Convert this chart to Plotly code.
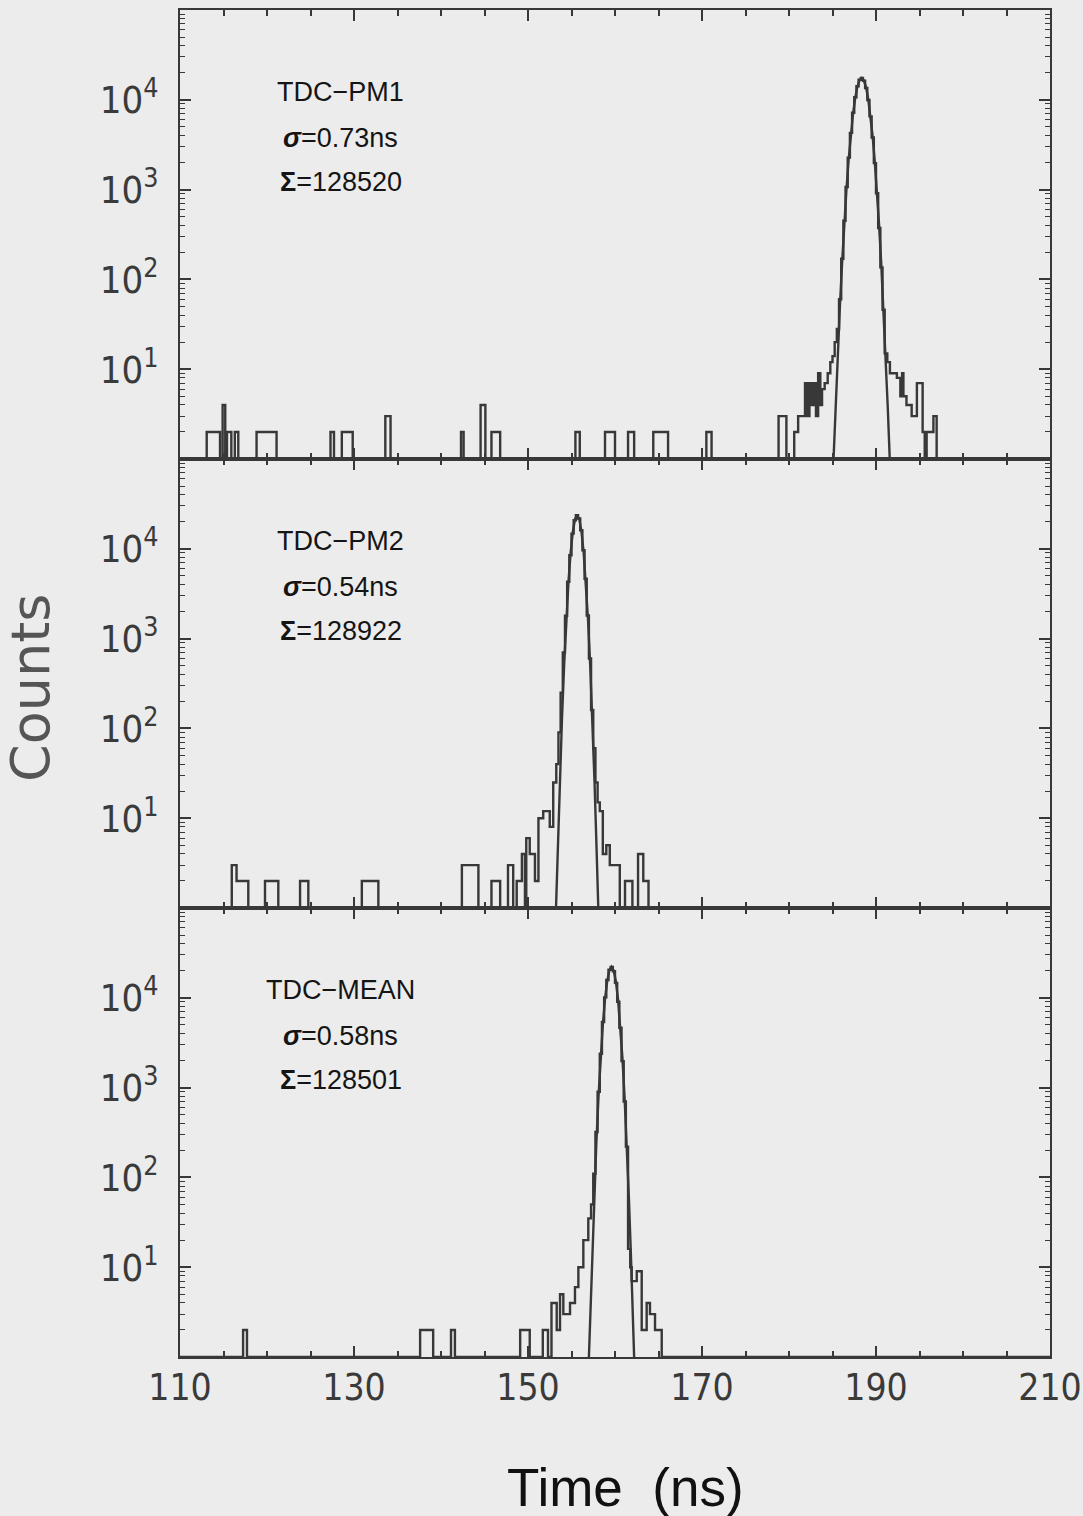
import plotly.graph_objects as go
from plotly.subplots import make_subplots

# ---------------- data ----------------
# Histogram steps: left edge of each step (ns) and the count on that step
pm1_t = [110, 113.07, 114.6, 114.9, 115.2, 115.4, 115.9, 116.3, 116.7, 118.8, 121.1,
         127.3, 127.7, 128.6, 129.85, 133.6, 134.2, 142.3, 142.6, 144.55, 145.1,
         145.8, 146.8, 155.45, 155.95, 158.85, 160.0, 161.5, 162.2, 164.4, 166.1,
         170.5, 171.1, 178.8, 179.7, 180.6, 181.05, 181.84, 182.1, 182.35, 182.6,
         182.85, 183.1, 183.35, 183.6, 183.8, 184.1, 184.45, 184.75, 185.0, 185.25,
         185.5, 185.75, 186.0, 186.25, 186.5, 186.75, 187.0, 187.25, 187.5, 187.75,
         188.0, 188.25, 188.5, 188.75, 189.0, 189.25, 189.5, 189.75, 190.0, 190.25,
         190.5, 190.75, 191.0, 191.3, 191.6, 192.4, 192.8, 193.0, 193.15, 193.5,
         194.1, 194.7, 195.36, 195.6, 195.82, 196.6, 196.97, 210]
pm1_n = [1, 2, 1, 4, 1, 2, 1, 2, 1, 2, 1,
         2, 1, 2, 1, 3, 1, 2, 1, 4, 1,
         2, 1, 2, 1, 2, 1, 2, 1, 2, 1,
         2, 1, 3, 1, 2, 3, 7, 3, 7, 4,
         7, 3, 9, 4, 6, 7, 9, 12, 14, 20,
         28, 60, 170, 450, 1070, 2270, 4280, 7170, 10690, 14160,
         16690, 17490, 16300, 13510, 9960, 6530, 3810, 1970, 910, 373,
         136, 46, 15, 12, 9, 8, 5, 9, 5, 4,
         3, 7, 2, 1, 2, 3, 1, 1]

pm2_t = [110, 115.95, 116.5, 117.85, 119.77, 121.3, 123.8, 124.75, 130.9, 132.8,
         142.4, 144.3, 145.8, 146.8, 147.7, 148.3, 148.7, 149.3, 149.65, 149.8,
         150.2, 150.8, 151.2, 151.75, 152.5, 152.9, 153.25, 153.5, 153.75, 154.0,
         154.25, 154.5, 154.75, 155.0, 155.25, 155.5, 155.75, 156.0, 156.25, 156.5,
         156.75, 157.0, 157.25, 157.5, 157.75, 158.0, 158.25, 158.6, 159.0, 159.4,
         160.55, 161.15, 162.0, 162.65, 163.25, 163.85, 210]
pm2_n = [1, 3, 2, 1, 2, 1, 2, 1, 2, 1,
         3, 1, 2, 1, 3, 1, 2, 4, 1, 6,
         4, 2, 10, 12, 8, 25, 40, 90, 250, 700,
         1800, 4300, 8460, 14770, 20820, 23680, 21730, 16100, 9625, 4640,
         1810, 600, 160, 60, 25, 15, 12, 4, 5, 3,
         1, 2, 1, 4, 2, 1, 1]

mean_t = [110, 117.25, 117.7, 137.6, 139.1, 141.15, 141.6, 149.1, 150.2, 151.7,
          152.3, 152.7, 153.3, 153.68, 154.06, 154.83, 155.4, 155.79, 156.36, 156.93,
          157.25, 157.5, 157.75, 158.0, 158.25, 158.5, 158.75, 159.0, 159.25, 159.5,
          159.75, 160.0, 160.25, 160.5, 160.75, 161.0, 161.25, 161.5, 161.75, 161.92,
          162.5, 163.07, 163.64, 164.02, 164.6, 165.37, 210]
mean_n = [1, 2, 1, 2, 1, 2, 1, 2, 1, 2,
          1, 4, 2, 5, 3, 4, 6, 10, 20, 35,
          50, 110, 320, 900, 2380, 5380, 10120, 15800, 20500, 22090,
          19750, 14670, 9050, 4640, 1970, 700, 220, 16, 10, 7,
          9, 2, 4, 3, 2, 1, 1]

# Fitted curves, points
fit1_t = [185.12, 185.35, 185.6, 185.85, 186.1, 186.35, 186.6, 186.85, 187.1, 187.35,
          187.6, 187.85, 188.1, 188.35, 188.6, 188.85, 189.1, 189.35, 189.6, 189.85,
          190.1, 190.35, 190.6, 190.85, 191.1, 191.35, 191.58]
fit1_n = [1, 3.8, 14.5, 50, 151, 410, 990, 2120, 4040, 6850,
          10320, 13840, 16500, 17500, 16500, 13840, 10320, 6850, 4040, 2120,
          990, 410, 151, 50, 14.5, 3.8, 1]

fit2_t = [153.22, 153.4, 153.65, 153.9, 154.15, 154.4, 154.65, 154.9, 155.15, 155.4,
          155.65, 155.9, 156.15, 156.4, 156.65, 156.9, 157.15, 157.4, 157.65, 157.9, 158.08]
fit2_n = [1, 4.0, 25, 124, 500, 1630, 4270, 9040, 15440, 21290,
          23700, 21290, 15440, 9040, 4270, 1630, 500, 124, 25, 4.0, 1]

fit3_t = [157.0, 157.1, 157.35, 157.6, 157.85, 158.1, 158.35, 158.6, 158.85, 159.1,
          159.35, 159.6, 159.85, 160.1, 160.35, 160.6, 160.85, 161.1, 161.35, 161.6,
          161.85, 162.1, 162.2]
fit3_n = [1, 2.0, 11.9, 58, 233, 780, 2170, 5000, 9580, 15240,
          20140, 22100, 20140, 15240, 9580, 5000, 2170, 780, 233, 58,
          11.9, 2.0, 1]

panel_titles = ["TDC\u2212PM1", "TDC\u2212PM2", "TDC\u2212MEAN"]
panel_sigmas = ["0.73", "0.54", "0.58"]
panel_sums = ["128520", "128922", "128501"]

x_ticks = [110, 130, 150, 170, 190, 210]
y_ticks = [10, 100, 1000, 10000]
y_ticktext = ["10<sup>1</sup>", "10<sup>2</sup>", "10<sup>3</sup>", "10<sup>4</sup>"]

# ---------------- figure ----------------
W, H = 1083, 1516
ML, MR, MT, MB = 180, 33, 10, 159
BG = "#ececec"
INK = "#383838"
NARROW = "Liberation Sans Narrow, Arial Narrow, DejaVu Sans Condensed, Liberation Sans, sans-serif"
SANS = "Liberation Sans, Arial, sans-serif"

fig = make_subplots(rows=3, cols=1, shared_xaxes=True, vertical_spacing=0)

hists = [(pm1_t, pm1_n), (pm2_t, pm2_n), (mean_t, mean_n)]
fits = [(fit1_t, fit1_n), (fit2_t, fit2_n), (fit3_t, fit3_n)]

for i in range(3):
    ht, hn = hists[i]
    ft, fn = fits[i]
    fig.add_trace(go.Scatter(x=ht, y=hn, mode="lines", line_shape="hv",
                             line=dict(color=INK, width=2.4), showlegend=False,
                             hoverinfo="skip"), row=i + 1, col=1)
    fig.add_trace(go.Scatter(x=ft, y=fn, mode="lines",
                             line=dict(color=INK, width=2.4), showlegend=False,
                             hoverinfo="skip"), row=i + 1, col=1)

minor_y = [m * 10 ** e for e in range(0, 5) for m in range(2, 10)]

for i in range(3):
    fig.update_xaxes(row=i + 1, col=1, range=[110, 210], showline=True, linecolor=INK,
                     linewidth=2, mirror="ticks", ticks="inside", ticklen=11, tickwidth=2,
                     tickcolor=INK, tickmode="array", tickvals=x_ticks,
                     ticktext=[str(v) for v in x_ticks],
                     minor=dict(ticks="inside", ticklen=6, tickwidth=1.6, tickcolor=INK,
                                tickmode="linear", tick0=110, dtick=5),
                     showgrid=False, zeroline=False, automargin=False,
                     tickfont=dict(family=NARROW, size=37, color="#3a3a3a"),
                     ticklabeloverflow="allow", ticklabelstandoff=-3,
                     showticklabels=(i == 2))
    fig.update_yaxes(row=i + 1, col=1, type="log", range=[0, 5.0], showline=True,
                     linecolor=INK, linewidth=2, mirror="ticks", ticks="inside",
                     ticklen=11, tickwidth=2, tickcolor=INK, tickmode="array",
                     tickvals=y_ticks, ticktext=y_ticktext,
                     minor=dict(ticks="inside", ticklen=5, tickwidth=1.4, tickcolor=INK,
                                tickmode="array", tickvals=minor_y),
                     showgrid=False, zeroline=False, automargin=False,
                     tickfont=dict(family=NARROW, size=38, color="#3a3a3a"),
                     ticklabelstandoff=12)

plot_h = H - MT - MB
panel_h = plot_h / 3.0


def py_to_paper(py):
    return (H - MB - py) / plot_h


annos = []
text_x = 128.5
offsets = [82, 128, 172]
for i in range(3):
    top = MT + i * panel_h
    lines = [panel_titles[i],
             "<b><i>\u03c3</i></b>=" + panel_sigmas[i] + "ns",
             "<b>\u03a3</b>=" + panel_sums[i]]
    for j in range(3):
        annos.append(dict(x=text_x, xref="x3", y=py_to_paper(top + offsets[j]), yref="paper",
                          text=lines[j], showarrow=False, xanchor="center", yanchor="middle",
                          font=dict(family=SANS, size=27, color="#151515")))

annos.append(dict(x=(31 - ML) / (W - ML - MR), xref="paper", y=py_to_paper(688), yref="paper",
                  text="Counts", textangle=-90, showarrow=False, xanchor="center",
                  yanchor="middle", font=dict(family="DejaVu Sans, sans-serif", size=54,
                                              color="#555555")))
annos.append(dict(x=(625 - ML) / (W - ML - MR), xref="paper", y=py_to_paper(1487), yref="paper",
                  text="Time&nbsp;&nbsp;(ns)", showarrow=False, xanchor="center",
                  yanchor="middle", font=dict(family=SANS, size=53, color="#111111")))

fig.update_layout(width=W, height=H, margin=dict(l=ML, r=MR, t=MT, b=MB, autoexpand=False),
                  paper_bgcolor=BG, plot_bgcolor=BG, annotations=annos,
                  showlegend=False)

fig.write_html("out.html")
